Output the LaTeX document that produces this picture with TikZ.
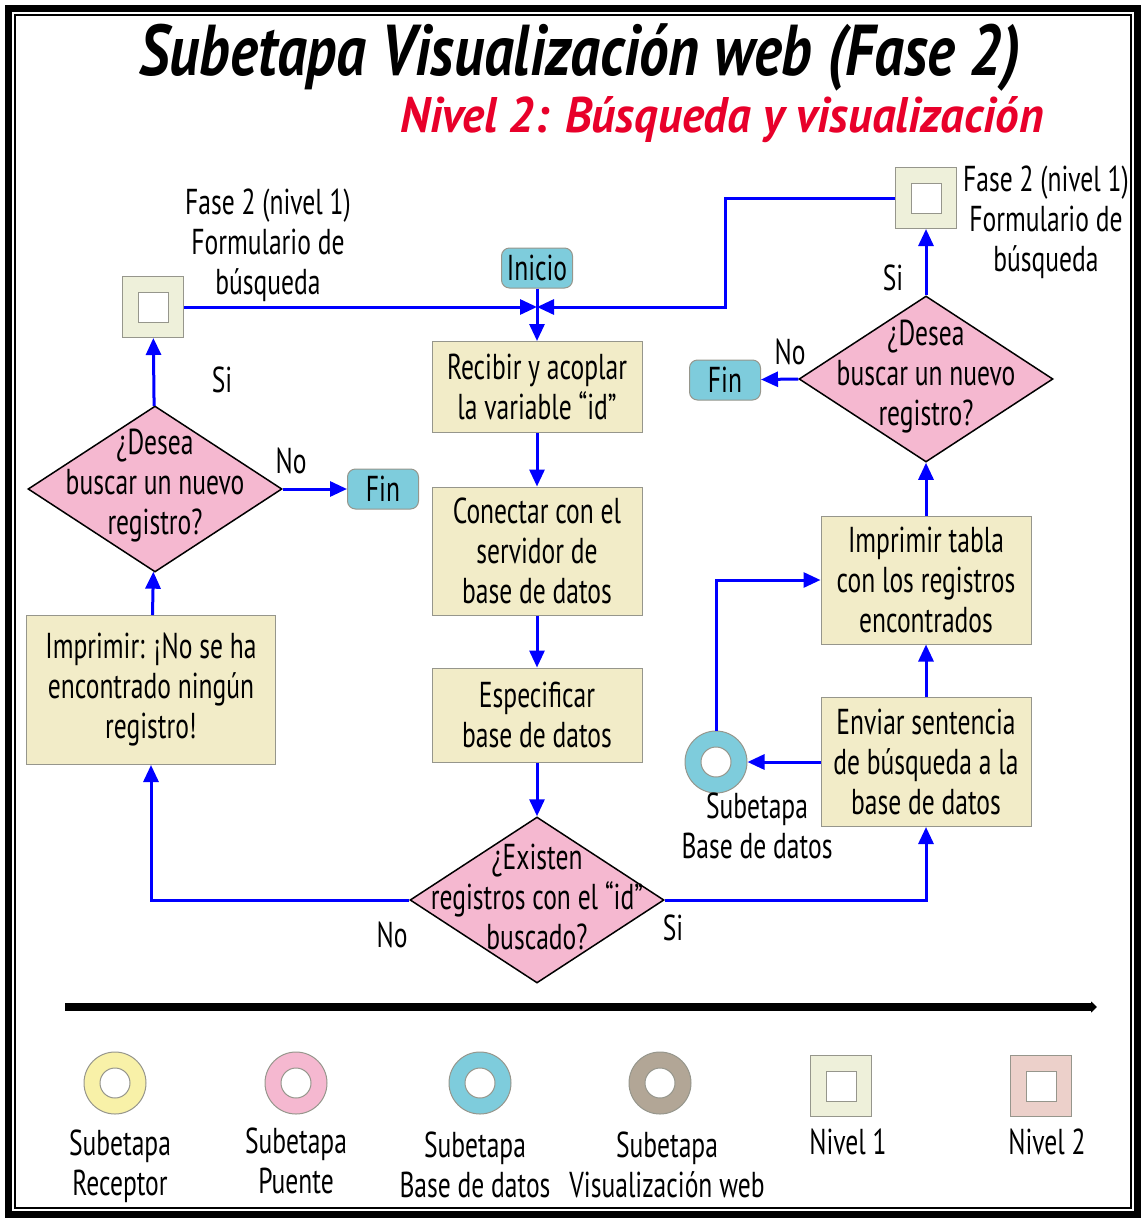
\documentclass[tikz,border=0pt]{standalone}
\usepackage{fontspec}
\setmainfont{PT Sans}[FakeStretch=0.71]
\newfontfamily\fuentetitulo{PT Sans}[FakeStretch=0.82]
\newfontfamily\fuentesubtitulo{PT Sans}[FakeStretch=0.94]
\usepackage{tikz}
\usetikzlibrary{shapes.geometric, arrows.meta}

\definecolor{crema}{RGB}{242,236,200}
\definecolor{rosa}{RGB}{245,184,208}
\definecolor{celeste}{RGB}{126,204,220}
\definecolor{verdoso}{RGB}{238,240,218}
\definecolor{salmon}{RGB}{236,208,202}
\definecolor{amarillo}{RGB}{248,241,168}
\definecolor{pardo}{RGB}{178,166,150}
\definecolor{rojo}{RGB}{232,0,42}
\definecolor{borde}{RGB}{150,150,140}

\tikzset{
  texto/.style={font=\fontsize{36}{40}\selectfont, align=center, inner sep=0pt},
  caja/.style={texto, draw=borde, fill=crema, line width=1pt,
    minimum width=210pt, minimum height=91pt},
  pregunta/.style={diamond, draw=black, fill=rosa, line width=1.5pt,
    minimum width=254pt, minimum height=166pt, inner sep=0pt},
  terminal/.style={texto, rounded corners=8pt, draw=borde, fill=celeste,
    line width=1pt, minimum width=71pt, minimum height=40pt},
  nivel/.style={draw=borde, fill=#1, line width=1pt, minimum size=61pt,
    path picture={\filldraw[draw=borde, fill=white, line width=1pt]
      (path picture bounding box.center) ++(-15pt,-15pt) rectangle ++(30pt,30pt);}},
  anillo/.style={circle, draw=borde, fill=#1, line width=1pt, minimum size=62pt,
    path picture={\filldraw[draw=borde, fill=white, line width=1pt]
      (path picture bounding box.center) circle (15pt);}},
  flecha/.style={draw=blue, line width=3pt, -{Triangle[length=17pt,width=15pt]}},
}

\begin{document}
\begin{tikzpicture}[x=1pt, y=-1pt]
\useasboundingbox (0,0) rectangle (1146,1223);

% marco doble
\draw[line width=7pt] (8.5,8.5) rectangle (1137.5,1214.5);
\draw[line width=2pt] (15,15) rectangle (1131,1208);

% titulos
\node[inner sep=0pt, font=\fuentetitulo\fontsize{72}{72}\selectfont\bfseries\itshape] (titulo) at (580,58) {Subetapa Visualización web (Fase 2)};
\node[inner sep=0pt, text=rojo, font=\fuentesubtitulo\fontsize{50}{50}\selectfont\bfseries\itshape] (subtitulo) at (722,120) {Nivel 2: Búsqueda y visualización};

%---columna central---

\node[terminal] (inicio) at (537,268) {Inicio};
\coordinate (cruce) at (537,307);
\node[caja] (recibir) at (537,387) {Recibir y acoplar\\la variable “id”};
\node[caja, minimum height=128pt] (conectar) at (537,551) {Conectar con el\\servidor de\\base de datos};
\node[caja, minimum height=94pt] (especificar) at (537,715) {Especificar\\base de datos};
\node[pregunta] (existen) at (537,900) {};
\node[texto] (existen-t) at (537,897) {¿Existen\\registros con el “id”\\buscado?};

\draw[flecha] (inicio) -- (recibir);
\draw[flecha] (recibir) -- (conectar);
\draw[flecha] (conectar) -- (especificar);
\draw[flecha] (especificar) -- (existen);

%---columna izquierda---

\node[nivel=verdoso] (fase-i) at (153,307) {};
\node[texto] (fase-i-t) at (268,245) {Fase 2 (nivel 1)\\Formulario de\\búsqueda};
\node[pregunta] (desea-i) at (155,489) {};
\node[texto] (desea-i-t) at (155,486) {¿Desea\\buscar un nuevo\\registro?};
\node[terminal] (fin-i) at (383,489) {Fin};
\node[caja, minimum width=249pt, minimum height=149pt] (imprimir-i) at (151,690) {Imprimir: ¡No se ha\\encontrado ningún\\registro!};

\node[texto] (si-i) at (222,380) {Si};
\node[texto] (no-i) at (291,461) {No};
\node[texto] (no-c) at (392,935) {No};

\draw[flecha] (existen.west) -| (imprimir-i.south);
\draw[flecha] (imprimir-i) -- (desea-i);
\draw[flecha] (desea-i) -- (fase-i);
\draw[flecha] (desea-i.east) -- (fin-i);
\draw[flecha] (fase-i) -- (cruce);

%---columna derecha---

\node[nivel=verdoso] (fase-d) at (926,198) {};
\node[texto] (fase-d-t) at (1046,222) {Fase 2 (nivel 1)\\Formulario de\\búsqueda};
\node[pregunta] (desea-d) at (926,379) {};
\node[texto] (desea-d-t) at (926,377) {¿Desea\\buscar un nuevo\\registro?};
\node[terminal] (fin-d) at (725,380) {Fin};
\node[caja, minimum height=128pt] (tabla) at (926,580) {Imprimir tabla\\con los registros\\encontrados};
\node[caja, minimum height=129pt] (enviar) at (926,762) {Enviar sentencia\\de búsqueda a la\\base de datos};
\node[anillo=celeste] (bd) at (716,762) {};
\node[texto] (bd-t) at (757,826) {Subetapa\\Base de datos};

\node[texto] (si-d) at (893,278) {Si};
\node[texto] (no-d) at (790,352) {No};
\node[texto] (si-c) at (673,928) {Si};

\draw[flecha] (existen.east) -| (enviar.south);
\draw[flecha] (enviar.west) -- (bd.east);
\draw[flecha] (bd.north) |- (tabla.west);
\draw[flecha] (enviar) -- (tabla);
\draw[flecha] (tabla) -- (desea-d);
\draw[flecha] (desea-d) -- (fase-d);
\draw[flecha] (desea-d.west) -- (fin-d);
\draw[flecha] (fase-d.west) -| (725,307) -- (cruce);

%---leyenda---

\coordinate (eje-i) at (65,1007);
\coordinate (eje-f) at (1097,1007);
\draw[line width=8pt, -{Triangle[length=6pt,width=11pt]}] (eje-i) -- (eje-f);

\node[anillo=amarillo] (receptor) at (115,1083) {};
\node[anillo=rosa] (puente) at (296,1083) {};
\node[anillo=celeste] (basedatos) at (480,1083) {};
\node[anillo=pardo] (visual) at (660,1083) {};
\node[nivel=verdoso] (nivel-1) at (841,1086) {};
\node[nivel=salmon] (nivel-2) at (1041,1086) {};

\node[texto] (receptor-t) at (120,1166) {Subetapa\\Receptor};
\node[texto] (puente-t) at (296,1161) {Subetapa\\Puente};
\node[texto] (basedatos-t) at (475,1165) {Subetapa\\Base de datos};
\node[texto] (visual-t) at (667,1165) {Subetapa\\Visualización web};
\node[texto] (nivel-1-t) at (848,1142) {Nivel 1};
\node[texto] (nivel-2-t) at (1047,1142) {Nivel 2};

\end{tikzpicture}
\end{document}
